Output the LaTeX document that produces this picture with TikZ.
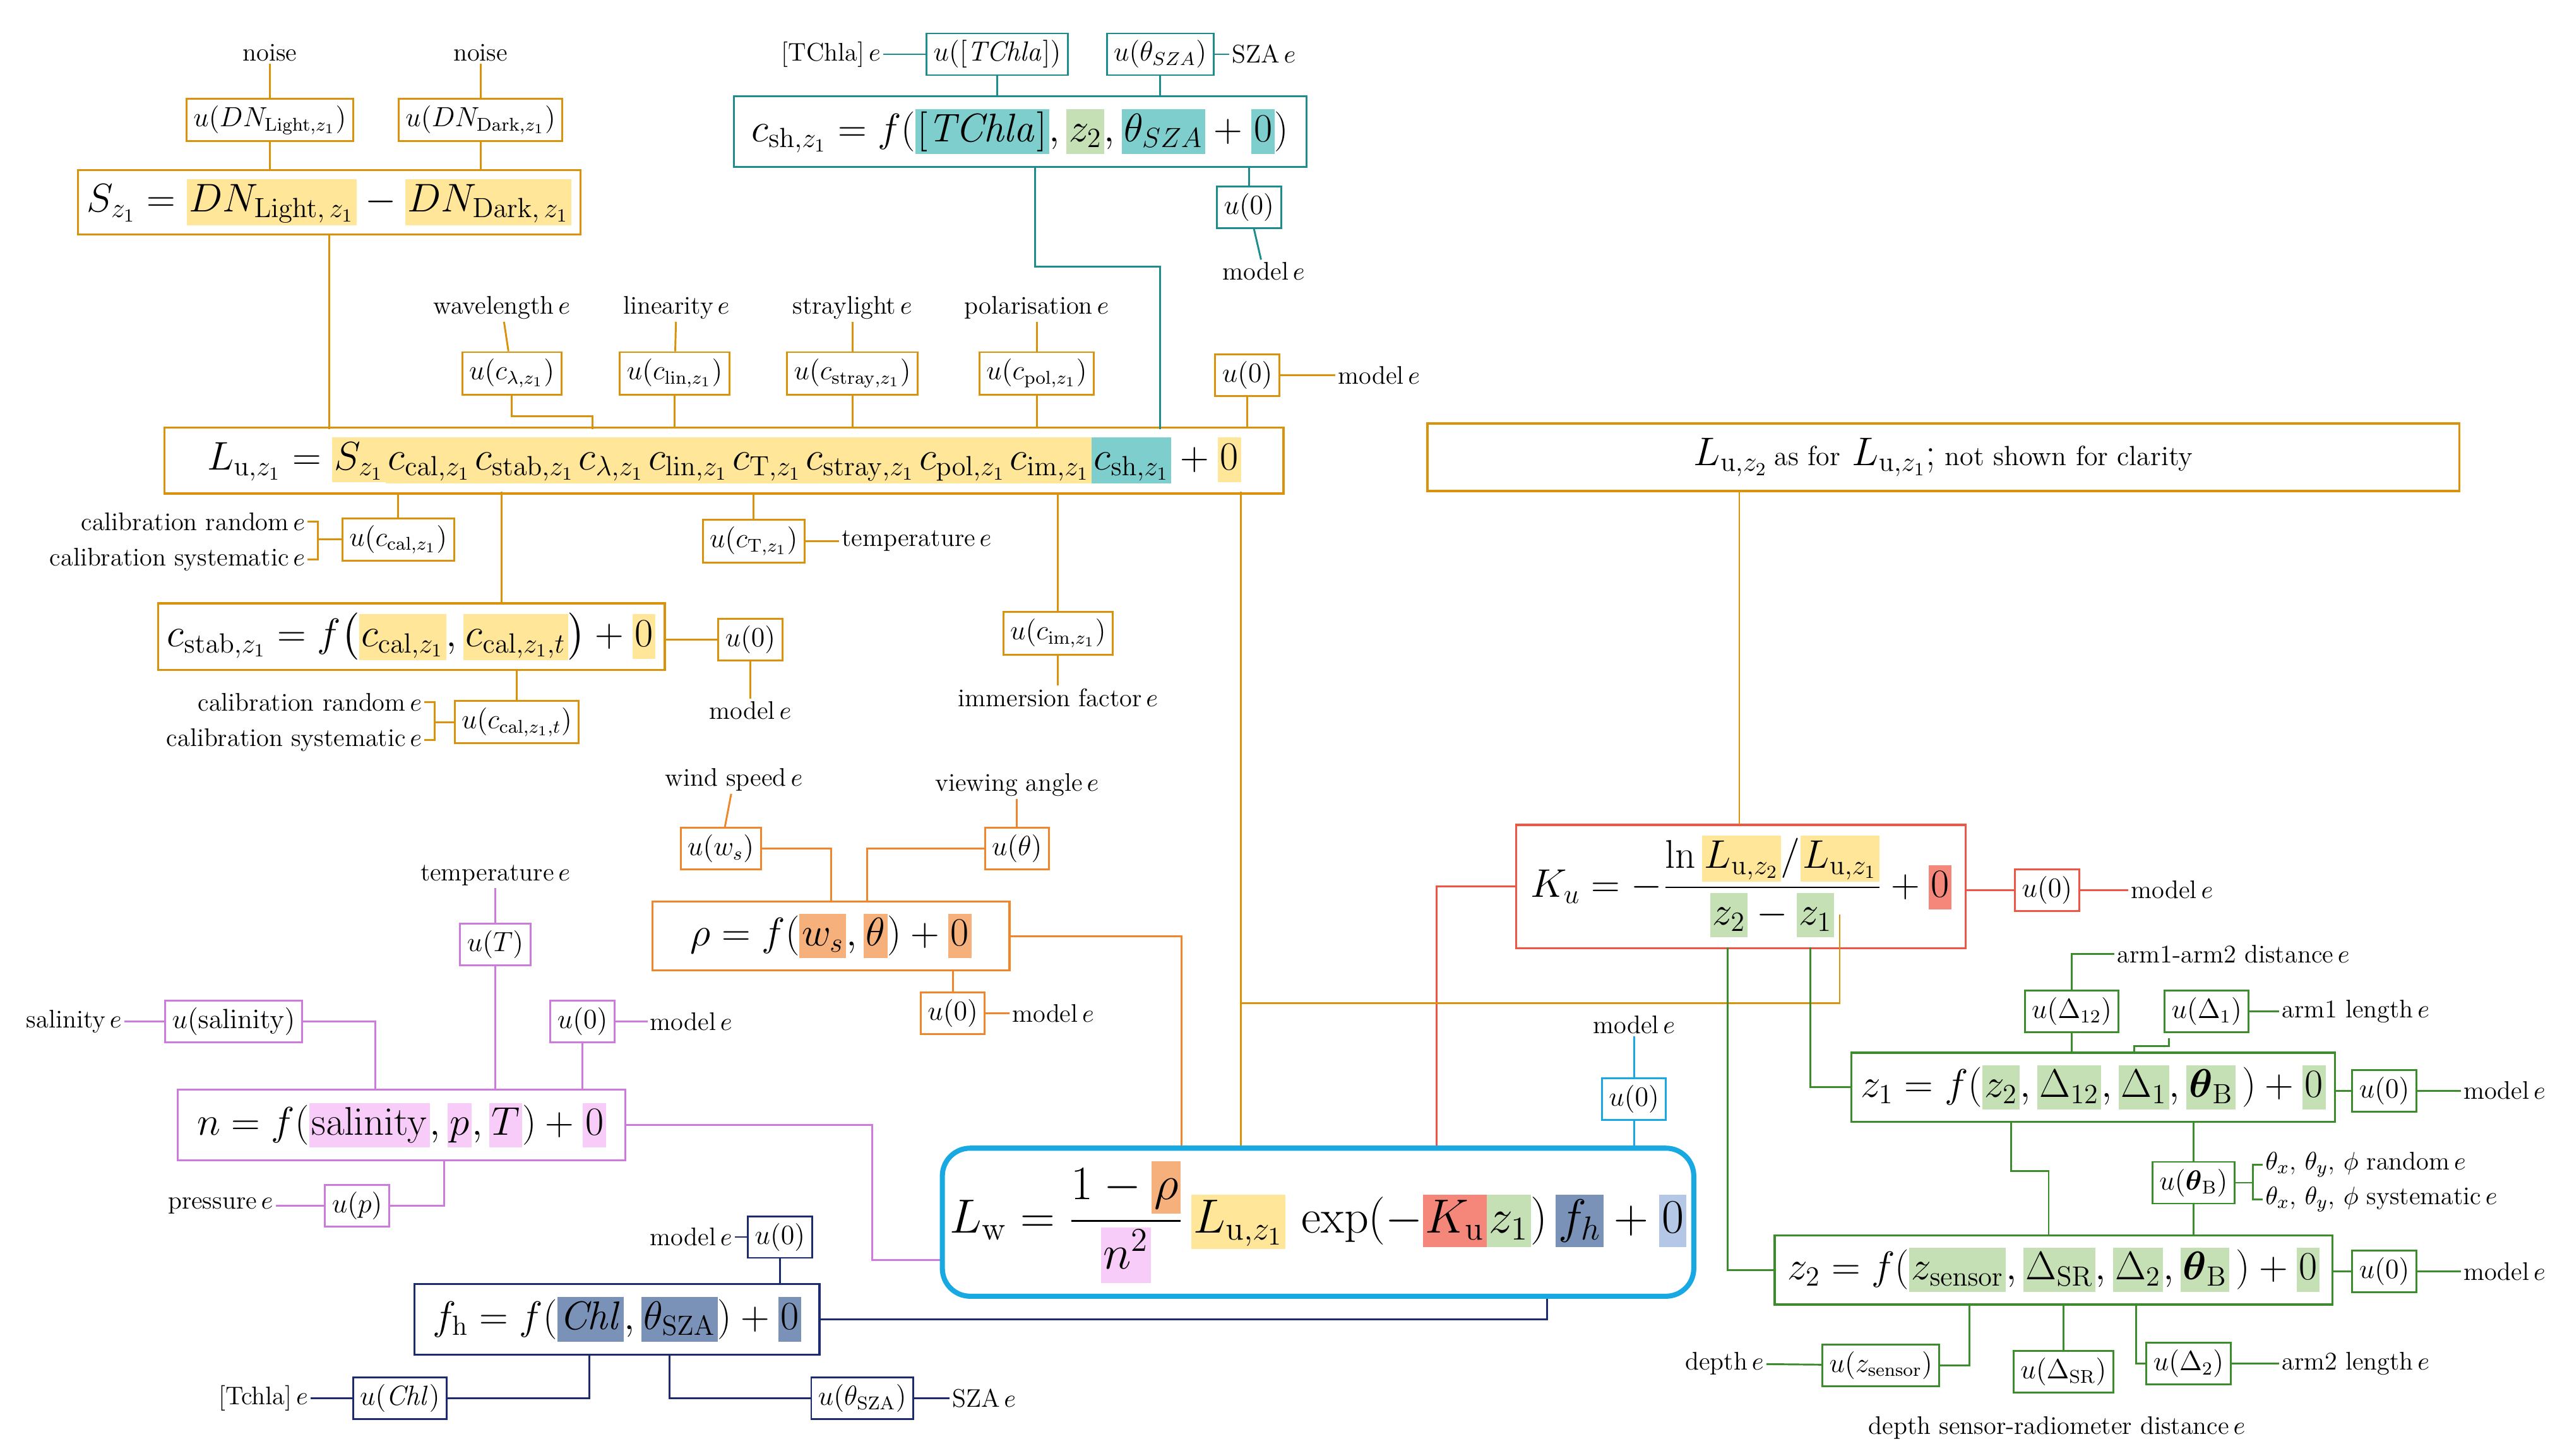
\documentclass[tikz,border=0pt]{standalone}
\usepackage{amsmath,amssymb}
\usepackage{tikz}
\usetikzlibrary{positioning,calc}
\definecolor{cgold}{HTML}{D9920C}
\definecolor{cteal}{HTML}{1E8C8C}
\definecolor{cred}{HTML}{EE5545}
\definecolor{cgreen}{HTML}{3C8C2E}
\definecolor{corange}{HTML}{F0862C}
\definecolor{cpurple}{HTML}{CC7ADC}
\definecolor{cnavy}{HTML}{1C2A70}
\definecolor{ccyan}{HTML}{18A8E2}
\definecolor{hy}{HTML}{FFE699}
\definecolor{ht}{HTML}{7ECECE}
\definecolor{hg}{HTML}{C5E0B4}
\definecolor{hr}{HTML}{F4877A}
\definecolor{ho}{HTML}{F6B07C}
\definecolor{hp}{HTML}{F8CCF8}
\definecolor{hn}{HTML}{7A92B8}
\definecolor{hc}{HTML}{B4C7E7}
\newcommand\hl[2]{{\setlength\fboxsep{1pt}\colorbox{#1}{$\vphantom{(}#2$}}}
\newcommand\ee{\,$e$}
\tikzset{
  box/.style={draw,line width=0.9pt,inner sep=4pt,fill=white,text=black,font=\fontsize{17}{20}\selectfont},
  ubox/.style={draw,line width=0.8pt,inner sep=3pt,fill=white,text=black,font=\fontsize{12}{14}\selectfont},
  lbl/.style={inner sep=1pt,text=black,font=\fontsize{11}{13}\selectfont},
  ln/.style={line width=0.8pt}
}
\begin{document}
\begin{tikzpicture}[x=0.025cm,y=-0.025cm]
  \useasboundingbox (0,0) rectangle (1560,885);

  % ---- S_z1 (gold) ----
  \begin{scope}[every node/.append style={draw=cgold},every path/.append style={draw=cgold}]
  \node[lbl,draw=none] (nsL) at (164,32) {noise};
  \node[lbl,draw=none] (nsD) at (292,32) {noise};
  \node[ubox] (uDNL) at (164,73) {$u(DN_{\mathrm{Light},z_1})$};
  \node[ubox] (uDND) at (292,73) {$u(DN_{\mathrm{Dark},z_1})$};
  \node[box] (S) at (200,123) {$S_{z_1}=\hl{hy}{DN_{\mathrm{Light},\,z_1}}-\hl{hy}{DN_{\mathrm{Dark},\,z_1}}$};
  \draw[ln] (nsL) -- (uDNL); \draw[ln] (nsD) -- (uDND);
  \draw[ln] (uDNL) -- (uDNL|-S.north); \draw[ln] (uDND) -- (uDND|-S.north);

  % ---- L_u,z1 ----
  \node[box,minimum width=680*0.025cm,minimum height=40*0.025cm,inner sep=2pt] (Lu) at (440,280) {$L_{\mathrm{u},z_1}=\hl{hy}{S_{z_1}}\hl{hy}{c_{\mathrm{cal},z_1}}\hl{hy}{c_{\mathrm{stab},z_1}}\hl{hy}{c_{\lambda,z_1}}\hl{hy}{c_{\mathrm{lin},z_1}}\hl{hy}{c_{\mathrm{T},z_1}}\hl{hy}{c_{\mathrm{stray},z_1}}\hl{hy}{c_{\mathrm{pol},z_1}}\hl{hy}{c_{\mathrm{im},z_1}}\hl{ht}{c_{\mathrm{sh},z_1}}+\hl{hy}{0}$};
  \draw[ln] (200,143) -- (200,261);
  \node[lbl,draw=none] (twl) at (305,187) {wavelength\ee};
  \node[lbl,draw=none] (tlin) at (411,187) {linearity\ee};
  \node[lbl,draw=none] (tsl) at (518,187) {straylight\ee};
  \node[lbl,draw=none] (tpol) at (630,187) {polarisation\ee};
  \node[ubox] (ucl) at (311,227) {$u(c_{\lambda,z_1})$};
  \node[ubox] (uclin) at (410,227) {$u(c_{\mathrm{lin},z_1})$};
  \node[ubox] (ucst) at (518,227) {$u(c_{\mathrm{stray},z_1})$};
  \node[ubox] (ucpol) at (630,227) {$u(c_{\mathrm{pol},z_1})$};
  \node[ubox] (u0L) at (758,228) {$u(0)$};
  \node[lbl,draw=none] (mL) at (838,228) {model\ee};
  \foreach \t/\b in {twl/ucl,tlin/uclin,tsl/ucst,tpol/ucpol} \draw[ln] (\t) -- (\b);
  \draw[ln] (ucl.south) |- (360,253) -- (360,261);
  \foreach \b in {uclin,ucst,ucpol,u0L} \draw[ln] (\b.south) -- (\b|-Lu.north);
  \draw[ln] (u0L) -- (mL);

  % ---- below L_u ----
  \node[ubox] (ucal) at (242,328) {$u(c_{\mathrm{cal},z_1})$};
  \node[lbl,draw=none,anchor=east] (cr1) at (187,317) {calibration random\ee};
  \node[lbl,draw=none,anchor=east] (cs1) at (187,340) {calibration systematic\ee};
  \draw[ln] (cr1.east) -- ++(6,0) |- (cs1.east); \draw[ln] (193,328) -- (ucal.west);
  \draw[ln] (ucal.north) -- (ucal|-Lu.south);
  \node[box] (cst) at (250,387) {$c_{\mathrm{stab},z_1}=f\big(\hl{hy}{c_{\mathrm{cal},z_1}},\hl{hy}{c_{\mathrm{cal},z_1,t}}\big)+\hl{hy}{0}$};
  \draw[ln] (305,299) -- (305,366);
  \node[ubox] (u0st) at (456,389) {$u(0)$};
  \node[lbl,draw=none] (mst) at (456,432) {model\ee};
  \draw[ln] (cst.east|-u0st) -- (u0st.west); \draw[ln] (u0st) -- (mst);
  \node[ubox] (ucalt) at (314,439) {$u(c_{\mathrm{cal},z_1,t})$};
  \node[lbl,draw=none,anchor=east] (cr2) at (258,427) {calibration random\ee};
  \node[lbl,draw=none,anchor=east] (cs2) at (258,450) {calibration systematic\ee};
  \draw[ln] (cr2.east) -- ++(6,0) |- (cs2.east); \draw[ln] (264,439) -- (ucalt.west);
  \draw[ln] (ucalt.north) -- (ucalt|-cst.south);
  \node[ubox] (ucT) at (458,329) {$u(c_{\mathrm{T},z_1})$};
  \node[lbl,draw=none] (tT) at (557,329) {temperature\ee};
  \draw[ln] (ucT.north) -- (ucT|-Lu.south); \draw[ln] (ucT) -- (tT);
  \node[ubox] (ucim) at (643,385) {$u(c_{\mathrm{im},z_1})$};
  \node[lbl,draw=none] (tim) at (643,424) {immersion factor\ee};
  \draw[ln] (ucim.north) -- (ucim|-Lu.south); \draw[ln] (ucim) -- (tim);

  % ---- L_u,z2 ----
  \node[box,minimum width=627*0.025cm,minimum height=41*0.025cm] (Lu2) at (1181,278) {$L_{\mathrm{u},z_2}$\,{\fontsize{12}{14}\selectfont as for} $L_{\mathrm{u},z_1}$;{\fontsize{12}{14}\selectfont\ not shown for clarity}};
  \end{scope}

  % ---- c_sh (teal) ----
  \begin{scope}[every node/.append style={draw=cteal},every path/.append style={draw=cteal}]
  \node[lbl,draw=none] (tch) at (505,33) {[TChla]\ee};
  \node[ubox] (uch) at (606,33) {$u([\mathit{TChla}])$};
  \node[ubox] (uts) at (705,33) {$u(\theta_{SZA})$};
  \node[lbl,draw=none] (tsza) at (768,33) {SZA\ee};
  \node[box,minimum width=348*0.025cm,minimum height=43*0.025cm] (csh) at (620,80) {$c_{\mathrm{sh},z_1}=f(\hl{ht}{[\mathit{TChla}]},\hl{hg}{z_2},\hl{ht}{\theta_{SZA}}+\hl{ht}{0})$};
  \node[ubox] (u0sh) at (759,126) {$u(0)$};
  \node[lbl,draw=none] (msh) at (768,165) {model\ee};
  \draw[ln] (tch) -- (uch); \draw[ln] (uts) -- (tsza);
  \draw[ln] (uch.south) -- (uch|-csh.north); \draw[ln] (uts.south) -- (uts|-csh.north);
  \draw[ln] (u0sh.north) -- (u0sh|-csh.south); \draw[ln] (u0sh) -- (msh);
  \draw[ln] (629,101) |- (705,162) -- (705,261);
  \end{scope}

  % ---- K_u (red) ----
  \begin{scope}[every node/.append style={draw=cred},every path/.append style={draw=cred}]
  \node[box,minimum width=273*0.025cm,minimum height=75*0.025cm] (Ku) at (1058,539) {$K_u=-\dfrac{\ln\hl{hy}{L_{\mathrm{u},z_2}}/\hl{hy}{L_{\mathrm{u},z_1}}}{\hl{hg}{z_2}-\hl{hg}{z_1}}+\hl{hr}{0}$};
  \node[ubox] (u0K) at (1244,541) {$u(0)$};
  \node[lbl,draw=none] (mK) at (1320,541) {model\ee};
  \draw[ln] (Ku.east|-u0K) -- (u0K); \draw[ln] (u0K) -- (mK);
  \draw[ln] (Ku.west) -| (873,700);
  \end{scope}
  \draw[ln,cgold] (1057,299) -- (1057,501);
  \draw[ln,cgold] (754,299) -- (754,700);
  \draw[ln,cgold] (754,610) -| (1118,556);

  % ---- z1, z2 (green) ----
  \begin{scope}[every node/.append style={draw=cgreen},every path/.append style={draw=cgreen}]
  \node[box,minimum width=289*0.025cm,minimum height=42*0.025cm] (z1) at (1272,661) {$z_1=f(\hl{hg}{z_2},\hl{hg}{\Delta_{12}},\hl{hg}{\Delta_1},\hl{hg}{\boldsymbol{\theta}_{\mathrm{B}}}\,)+\hl{hg}{0}$};
  \node[box,minimum width=339*0.025cm,minimum height=42*0.025cm] (z2) at (1248,772) {$z_2=f(\hl{hg}{z_{\mathrm{sensor}}},\hl{hg}{\Delta_{\mathrm{SR}}},\hl{hg}{\Delta_2},\hl{hg}{\boldsymbol{\theta}_{\mathrm{B}}}\,)+\hl{hg}{0}$};
  \draw[ln] (1050,576) |- (z2.west); \draw[ln] (1100,576) |- (z1.west);
  \node[ubox] (u0z1) at (1449,663) {$u(0)$};
  \node[lbl,draw=none] (mz1) at (1522,663) {model\ee};
  \node[ubox] (u0z2) at (1449,773) {$u(0)$};
  \node[lbl,draw=none] (mz2) at (1522,773) {model\ee};
  \draw[ln] (z1.east|-u0z1) -- (u0z1) -- (mz1); \draw[ln] (z2.east|-u0z2) -- (u0z2) -- (mz2);
  \node[lbl,draw=none,anchor=west] (ta12) at (1285,580) {arm1-arm2 distance\ee};
  \node[ubox] (uD12) at (1259,615) {$u(\Delta_{12})$};
  \node[ubox] (uD1) at (1341,615) {$u(\Delta_1)$};
  \node[lbl,draw=none,anchor=west] (ta1) at (1385,615) {arm1 length\ee};
  \draw[ln] (uD12.north) |- (ta12.west); \draw[ln] (uD1) -- (ta1);
  \draw[ln] (uD12.south) -- (uD12|-z1.north);
  \draw[ln] (1318,631) |- (1297,636) -- (1297,640);
  \node[ubox] (uthB) at (1333,719) {$u(\boldsymbol{\theta}_{\mathrm{B}})$};
  \node[lbl,draw=none,anchor=west] (tr) at (1375,708) {$\theta_x$, $\theta_y$, $\phi$ random\ee};
  \node[lbl,draw=none,anchor=west] (tsy) at (1375,729) {$\theta_x$, $\theta_y$, $\phi$ systematic\ee};
  \draw[ln] (tr.west) -- ++(-6,0) |- (tsy.west); \draw[ln] (uthB.east) -- (1369,719);
  \draw[ln] (uthB.north) -- (uthB|-z1.south); \draw[ln] (uthB.south) -- (uthB|-z2.north);
  \draw[ln] (1222,682) |- (1245,712) -- (1245,751);
  \node[ubox] (uzs) at (1143,830) {$u(z_{\mathrm{sensor}})$};
  \node[lbl,draw=none] (tdep) at (1048,829) {depth\ee};
  \node[ubox] (uDSR) at (1254,834) {$u(\Delta_{\mathrm{SR}})$};
  \node[lbl,draw=none] (tdsr) at (1250,868) {depth sensor-radiometer distance\ee};
  \node[ubox] (uD2) at (1330,829) {$u(\Delta_2)$};
  \node[lbl,draw=none,anchor=west] (ta2) at (1385,829) {arm2 length\ee};
  \draw[ln] (tdep) -- (uzs); \draw[ln] (uzs.east) -| (1197,793);
  \draw[ln] (uDSR.north) -- (uDSR|-z2.south); \draw[ln] (uD2) -- (ta2);
  \draw[ln] (uD2.west) -| (1298,793);
  \end{scope}

  % ---- rho (orange) ----
  \begin{scope}[every node/.append style={draw=corange},every path/.append style={draw=corange}]
  \node[lbl,draw=none] (tws) at (446,474) {wind speed\ee};
  \node[ubox] (uws) at (438,516) {$u(w_s)$};
  \node[lbl,draw=none] (tva) at (618,477) {viewing angle\ee};
  \node[ubox] (uth) at (618,516) {$u(\theta)$};
  \node[box,minimum width=217*0.025cm,minimum height=42*0.025cm] (rho) at (505,569) {$\rho=f(\hl{ho}{w_s},\hl{ho}{\theta})+\hl{ho}{0}$};
  \node[ubox] (u0r) at (579,616) {$u(0)$};
  \node[lbl,draw=none] (mr) at (640,616) {model\ee};
  \draw[ln] (tws) -- (uws); \draw[ln] (tva) -- (uth);
  \draw[ln] (uws.east) -| (505,548); \draw[ln] (uth.west) -| (527,548);
  \draw[ln] (u0r.north) -- (u0r|-rho.south); \draw[ln] (u0r) -- (mr);
  \draw[ln] (rho.east) -| (718,700);
  \end{scope}

  % ---- n (purple) ----
  \begin{scope}[every node/.append style={draw=cpurple},every path/.append style={draw=cpurple}]
  \node[lbl,draw=none] (ttn) at (301,532) {temperature\ee};
  \node[ubox] (uT) at (301,574) {$u(T)$};
  \node[ubox] (u0n) at (354,621) {$u(0)$};
  \node[lbl,draw=none] (mn) at (420,621) {model\ee};
  \node[lbl,draw=none] (tsal) at (45,621) {salinity\ee};
  \node[ubox] (usal) at (142,621) {$u(\mathrm{salinity})$};
  \node[box,minimum width=272*0.025cm,minimum height=43*0.025cm] (n) at (244,684) {$n=f(\hl{hp}{\mathrm{salinity}},\hl{hp}{p},\hl{hp}{T})+\hl{hp}{0}$};
  \node[ubox] (up) at (217,733) {$u(p)$};
  \node[lbl,draw=none] (tp) at (134,733) {pressure\ee};
  \draw[ln] (ttn) -- (uT); \draw[ln] (uT.south) -- (uT|-n.north);
  \draw[ln] (u0n.south) -- (u0n|-n.north); \draw[ln] (u0n) -- (mn);
  \draw[ln] (tsal) -- (usal); \draw[ln] (usal.east) -| (228,663);
  \draw[ln] (tp) -- (up); \draw[ln] (up.east) -| (270,706);
  \draw[ln] (n.east) -| (530,766) -- (680,766);
  \end{scope}

  % ---- f_h (navy) ----
  \begin{scope}[every node/.append style={draw=cnavy},every path/.append style={draw=cnavy}]
  \node[lbl,draw=none] (mf) at (420,752) {model\ee};
  \node[ubox] (u0f) at (474,752) {$u(0)$};
  \node[box,minimum width=246*0.025cm,minimum height=43*0.025cm] (fh) at (375,802) {$f_{\mathrm{h}}=f(\hl{hn}{\mathit{Chl}},\hl{hn}{\theta_{\mathrm{SZA}}})+\hl{hn}{0}$};
  \node[ubox] (uchl) at (243,850) {$u(\mathit{Chl})$};
  \node[lbl,draw=none] (ttc) at (160,850) {[Tchla]\ee};
  \node[ubox] (utsz) at (524,850) {$u(\theta_{\mathrm{SZA}})$};
  \node[lbl,draw=none] (tsz2) at (598,850) {SZA\ee};
  \draw[ln] (mf) -- (u0f); \draw[ln] (u0f.south) -- (u0f|-fh.north);
  \draw[ln] (ttc) -- (uchl); \draw[ln] (uchl.east) -| (358,823);
  \draw[ln] (utsz) -- (tsz2); \draw[ln] (utsz.west) -| (407,823);
  \draw[ln] (fh.east) -| (940,788);
  \end{scope}

  % ---- L_w (cyan) ----
  \node[draw=ccyan,line width=2.2pt,rounded corners=12pt,fill=white,minimum width=450*0.025cm,minimum height=90*0.025cm,font=\fontsize{21}{25}\selectfont] (Lw) at (801,743) {$L_{\mathrm{w}}=\dfrac{1-\hl{ho}{\rho}}{\hl{hp}{n^2}}\,\hl{hy}{L_{\mathrm{u},z_1}}\,\exp(-\hl{hr}{K_{\mathrm{u}}}\hl{hg}{z_1})\,\hl{hn}{f_h}+\hl{hc}{0}$};
  \node[lbl] (mw) at (993,623) {model\ee};
  \node[ubox,draw=ccyan] (u0w) at (993,668) {$u(0)$};
  \draw[ln,ccyan] (mw) -- (u0w); \draw[ln,ccyan] (u0w.south) -- (u0w|-Lw.north);
\end{tikzpicture}
\end{document}
